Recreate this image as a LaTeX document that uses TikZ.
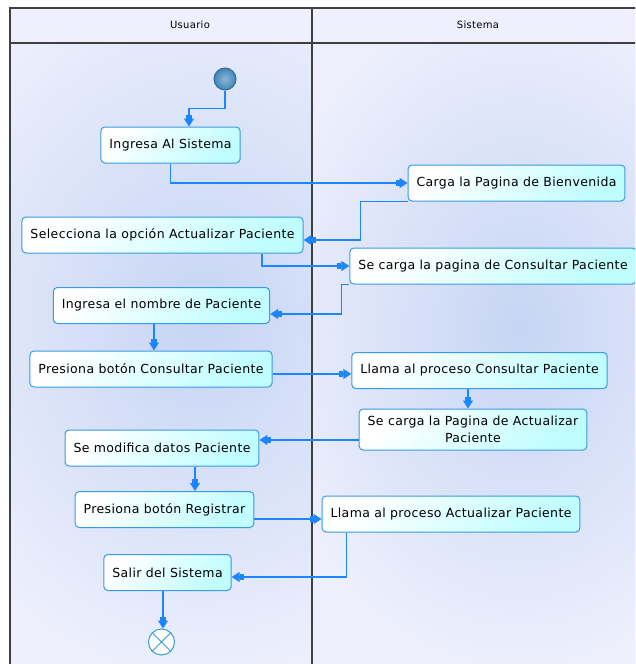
\documentclass[tikz,border=0pt]{standalone}
\usepackage{fontspec}
\setmainfont{DejaVu Sans}[LetterSpace=3]
\usetikzlibrary{arrows.meta, calc}
\definecolor{cedge}{HTML}{EDEFFC}
\definecolor{cglow}{HTML}{C6D5F4}
\definecolor{chead}{HTML}{EFEFFD}
\definecolor{cframe}{HTML}{404040}
\definecolor{cborder}{HTML}{3A9BE0}
\definecolor{ccyan}{HTML}{C0FDFF}
\definecolor{cflow}{HTML}{1C86FF}
\definecolor{cstart}{HTML}{3F86B8}
\tikzset{
  every picture/.style={x=1pt, y=-1pt, line width=1pt},
  act/.style={draw=cborder, rounded corners=4pt, top color=white, bottom color=ccyan, shading angle=45,
    align=center, inner xsep=8.5pt, inner ysep=2pt, minimum height=36pt, font=\fontsize{12.5}{17}\selectfont},
  flow/.style={draw=cflow, line width=1.3pt, -{Rectangle[length=4pt,width=6pt] Triangle[length=8pt,width=10pt]}},
  lane/.style={font=\fontsize{10}{12}\selectfont},
}

\begin{document}
\begin{tikzpicture}
  \clip (0,0) rectangle (635,664);
  % swimlanes
  \begin{scope}
    \clip (10,43) rectangle (312,664);
    \fill[cedge] (10,43) rectangle (312,664);
    \shade[inner color=cglow, outer color=cedge] (200,320) ellipse (300 and 360);
  \end{scope}
  \begin{scope}
    \clip (312,43) rectangle (640,664);
    \fill[cedge] (312,43) rectangle (640,664);
    \shade[inner color=cglow, outer color=cedge] (520,330) ellipse (260 and 340);
  \end{scope}
  \fill[chead] (10,8) rectangle (640,43);
  \draw[cframe, line width=1.2pt] (10,670) -- (10,8) -- (640,8) (10,43) -- (640,43) (312,8) -- (312,670);
  \node[lane] (usuario) at (190,25) {Usuario};
  \node[lane] (sistema) at (478,25) {Sistema};

  % activities
  \node[circle, draw=cstart!80!black, inner color=cstart!60!white, outer color=cstart, minimum size=22pt, inner sep=0pt] (inicio) at (225,79) {};
  \node[act] (ingresa) at (170.5,145) {Ingresa Al Sistema};
  \node[act] (carga) at (516.5,183) {Carga la Pagina de Bienvenida};
  \node[act] (selecciona) at (162.5,235) {Selecciona la opción Actualizar Paciente};
  \node[act] (consulta) at (493,266) {Se carga la pagina de Consultar Paciente};
  \node[act] (nombre) at (161.5,305.5) {Ingresa el nombre de Paciente};
  \node[act] (presiona) at (151,369) {Presiona botón Consultar Paciente};
  \node[act] (llamac) at (479.5,370.5) {Llama al proceso Consultar Paciente};
  \node[act, minimum height=41pt] (actpag) at (473,429.5) {Se carga la Pagina de Actualizar\\Paciente};
  \node[act] (modifica) at (162,448) {Se modifica datos Paciente};
  \node[act] (registrar) at (164.5,509.5) {Presiona botón Registrar};
  \node[act] (llamaa) at (451,514) {Llama al proceso Actualizar Paciente};
  \node[act] (salir) at (167.5,572.5) {Salir del Sistema};
  \node[circle, draw=cborder, fill=white, minimum size=26pt, inner sep=0pt] (fin) at (161.5,642) {};
  \draw[cborder] (fin.45) -- (fin.225) (fin.135) -- (fin.315);

  % flows
  \draw[flow] (inicio.south) -- ++(0,18) -| ([xshift=18.5pt]ingresa.north);
  \draw[flow] (ingresa.south) |- (carga.west);
  \draw[flow] (carga.south west) -- ++(-47,0) |- ([yshift=-5pt]selecciona.east);
  \draw[flow] ([xshift=99.5pt]selecciona.south) |- (consulta.west);
  \draw[flow] (consulta.south west) -- ++(-8,0) |- ([yshift=-8.5pt]nombre.east);
  \draw[flow] ([xshift=-7.5pt]nombre.south) coordinate (a1) -- (a1 |- presiona.north);
  \draw[flow] ([yshift=-5pt]presiona.east) coordinate (a2) -- (a2 -| llamac.west);
  \draw[flow] ([xshift=-11.5pt]llamac.south) coordinate (a3) -- (a3 |- actpag.north);
  \draw[flow] ([yshift=-10.5pt]actpag.west) coordinate (a4) -- (a4 -| modifica.east);
  \draw[flow] ([xshift=33pt]modifica.south) coordinate (a5) -- (a5 |- registrar.north);
  \draw[flow] ([yshift=-9.5pt]registrar.east) coordinate (a6) -- (a6 -| llamaa.west);
  \draw[flow] ([xshift=25pt]llamaa.south west) |- ([yshift=-4.5pt]salir.east);
  \draw[flow] ([xshift=-4.5pt]salir.south) coordinate (a7) -- (a7 |- fin.north);
\end{tikzpicture}
\end{document}
